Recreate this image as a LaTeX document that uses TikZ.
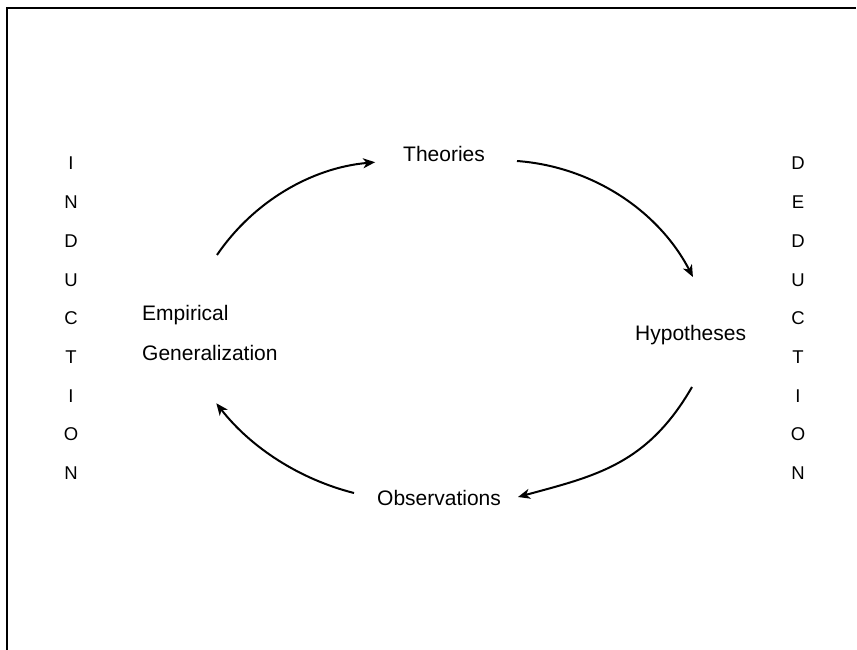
\documentclass[tikz,border=0pt]{standalone}
\usepackage{fontspec}
\setmainfont{Liberation Sans}
\usetikzlibrary{arrows.meta}
\tikzset{
  lbl/.style={inner sep=0pt, font=\fontsize{21}{25}\selectfont, anchor=base west},
  side/.style={inner sep=0pt, font=\fontsize{18.5}{22}\selectfont, anchor=base},
  cyc/.style={line width=2pt, -{Stealth[length=12pt,width=10pt,inset=3.5pt]}},
  frame/.style={line width=2.4pt}
}
\begin{document}
\begin{tikzpicture}[x=1pt,y=1pt]
\useasboundingbox (0,0) rectangle (857,-650);
% frame (top and left)
\coordinate (fbl) at (7,-651);
\coordinate (ftl) at (7,-8);
\coordinate (ftr) at (856,-8);
\draw[frame] (fbl) -- (ftl) -- (ftr);
% labels
\node[lbl] (theo) at (403,-161) {Theories};
\node[lbl] (hyp) at (635,-340) {Hypotheses};
\node[lbl] (obs) at (377,-505) {Observations};
\node[lbl] (emp) at (142,-320) {Empirical};
\node[lbl] (gen) at (142,-360) {Generalization};
% side words
\foreach \l [count=\i from 0] in {I,N,D,U,C,T,I,O,N}
  \node[side] (ind\i) at (71,-170-38.7*\i) {\l};
\foreach \l [count=\i from 0] in {D,E,D,U,C,T,I,O,N}
  \node[side] (ded\i) at (798,-170-38.7*\i) {\l};
% arrow ends
\coordinate (a1s) at (217,-255);
\coordinate (a2s) at (517,-161);
\coordinate (a3s) at (692,-387); \coordinate (a3e) at (518,-497);
\coordinate (a4s) at (354,-493);
\draw[cyc] (a1s) arc[start angle=145.8, end angle=95, radius=213.7pt];
\draw[cyc] (a2s) arc[start angle=85.8, end angle=27.4, radius=216pt];
\draw[cyc] (a3s) .. controls (647,-465) and (595,-476) .. (a3e);
\draw[cyc] (a4s) arc[start angle=255.8, end angle=218, radius=253.7pt];
\end{tikzpicture}
\end{document}
